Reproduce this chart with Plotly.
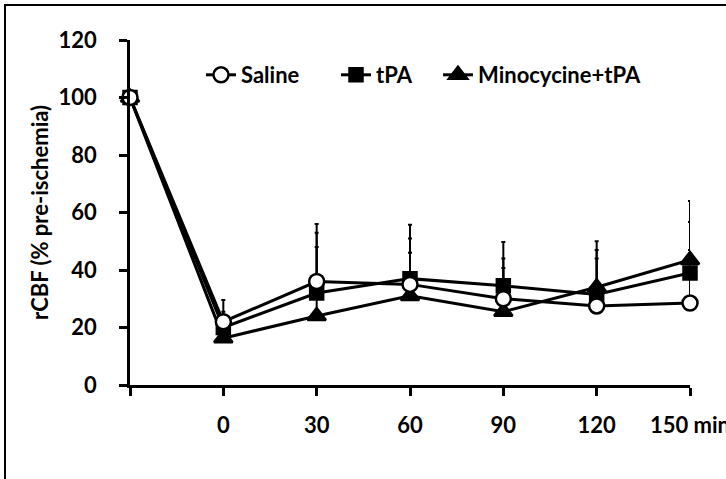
import plotly.graph_objects as go

categories = ["", "0", "30", "60", "90", "120", "150 min"]
saline = [100, 22, 36, 35, 30, 27.5, 28.5]
tpa = [100, 20, 32, 37, 34.5, 31.5, 39]
mino = [100, 16.3, 24, 31, 25.5, 34, 43.5]
saline_err = [0, 7.6, 20, 20.7, 19.7, 19.5, 18.5]
tpa_err = [0, 5.5, 16, 14, 9.5, 12.5, 17.7]
mino_err = [0, 6, 29, 15, 15.2, 16, 20.5]
y_ticks = [0, 20, 40, 60, 80, 100, 120]

xpos = list(range(len(categories)))
FONT = "Lato"

# target pixel geometry of plot area in the window
PL, PR, PT, PB = 130, 690, 40, 385
W, H = 726, 479

fig = go.Figure()

def add_series(name, y, err, symbol, size, fill, legend):
    fig.add_trace(go.Scatter(
        x=xpos, y=y, mode="lines+markers", name=name, legend=legend,
        showlegend=True,
        line=dict(color="black", width=3),
        marker=dict(symbol=symbol, size=size, color=fill,
                    line=dict(color="black", width=2.5)),
        error_y=dict(type="data", array=err, arrayminus=[0]*len(err),
                     symmetric=False, color="black", thickness=2, width=2),
        cliponaxis=False,
    ))

add_series("Minocycine+tPA", mino, mino_err, "triangle-up", 16, "black", "legend3")
add_series("tPA", tpa, tpa_err, "square", 13, "black", "legend2")
add_series("Saline", saline, saline_err, "circle", 15, "white", "legend")

def px_x(p):
    return (p - PL) / (PR - PL)

def px_y(p):
    return (PB - p) / (PB - PT)

leg_common = dict(orientation="h", yanchor="middle", y=px_y(75), xanchor="left",
                  bgcolor="rgba(0,0,0,0)", borderwidth=0, itemwidth=30,
                  font=dict(family=FONT, size=22, color="black", weight="bold"))

tick_font = dict(family=FONT, size=22, color="black", weight="bold")

fig.update_layout(
    width=W, height=H, showlegend=True,
    margin=dict(l=PL, r=W - PR, t=PT, b=H - PB, autoexpand=False),
    paper_bgcolor="white", plot_bgcolor="white",
    font=tick_font,
    legend=dict(x=px_x(201), **leg_common),
    legend2=dict(x=px_x(336), **leg_common),
    legend3=dict(x=px_x(438), **leg_common),
    xaxis=dict(range=[0, 6], tickmode="array", tickvals=xpos,
               ticktext=categories, ticklabeloverflow="allow", automargin=False,
               showline=True, linecolor="black", linewidth=2.5,
               ticks="outside", ticklen=8, tickwidth=2.5, tickcolor="black",
               showgrid=False, zeroline=False, ticklabelstandoff=11,
               tickfont=tick_font),
    yaxis=dict(range=[0, 120], tickmode="array", tickvals=y_ticks,
               showline=True, linecolor="black", linewidth=2.5, automargin=False,
               ticks="outside", ticklen=8, tickwidth=2.5, tickcolor="black",
               showgrid=False, zeroline=False, ticklabelstandoff=18,
               tickfont=tick_font,
               title=dict(text="rCBF (% pre-ischemia)", standoff=4,
                          font=tick_font)),
)

fig.add_shape(type="rect", xref="paper", yref="paper",
              x0=px_x(5), x1=1.3, y0=-0.6, y1=px_y(5),
              line=dict(color="black", width=2), layer="below")

fig.write_html("out.html", config={"displayModeBar": False},
               post_script="document.body.style.margin='0';document.body.style.overflow='hidden';")
